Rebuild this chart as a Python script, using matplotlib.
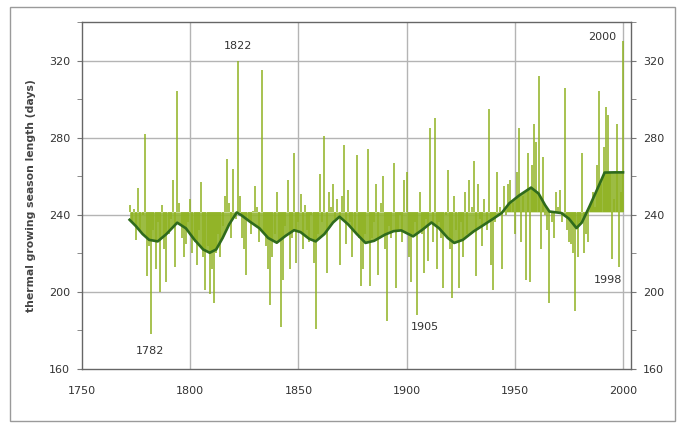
import numpy as np
import matplotlib
matplotlib.use("Agg")
import matplotlib.pyplot as plt
from matplotlib.patches import Rectangle

# ---- data ----
start_year = 1772
season_length = [
    245, 236, 243, 227, 254, 232, 240, 282,                      # 1772-1779
    208, 224, 178, 232, 212, 236, 200, 245, 222, 205,            # 1780s
    230, 238, 258, 213, 304, 246, 228, 218, 225, 236,            # 1790s
    248, 220, 226, 214, 232, 257, 218, 201, 224, 199,            # 1800s
    212, 194, 220, 230, 218, 234, 250, 269, 246, 228,            # 1810s
    264, 238, 320, 250, 228, 222, 209, 236, 230, 242,            # 1820s
    255, 244, 226, 315, 230, 224, 212, 193, 218, 230,            # 1830s
    252, 226, 182, 206, 234, 258, 212, 228, 272, 215,            # 1840s
    236, 251, 222, 245, 232, 226, 240, 215, 181, 230,            # 1850s
    261, 236, 281, 210, 252, 244, 256, 238, 248, 214,            # 1860s
    250, 276, 225, 253, 236, 218, 232, 271, 228, 203,            # 1870s
    212, 230, 274, 203, 228, 236, 256, 209, 246, 260,            # 1880s
    222, 185, 234, 228, 267, 202, 232, 240, 226, 258,            # 1890s
    262, 218, 205, 230, 236, 188, 252, 230, 210, 238,            # 1900s
    216, 285, 226, 290, 212, 236, 228, 202, 240, 263,            # 1910s
    222, 197, 250, 232, 202, 236, 218, 252, 230, 258,            # 1920s
    244, 268, 208, 256, 238, 224, 248, 232, 295, 214,            # 1930s
    201, 236, 262, 244, 212, 255, 240, 256, 258, 246,            # 1940s
    230, 262, 285, 226, 250, 206, 272, 205, 266, 287,            # 1950s
    278, 312, 222, 270, 240, 232, 194, 236, 228, 252,            # 1960s
    244, 253, 236, 306, 232, 226, 225, 220, 190, 218,            # 1970s
    236, 272, 220, 230, 226, 246, 252, 244, 266, 304,            # 1980s
    256, 275, 296, 292, 262, 217, 248, 287, 213, 252,            # 1990s
    330,                                                         # 2000
]
years = np.arange(start_year, start_year + len(season_length))
baseline = 241.5

smooth_years = [1772, 1775, 1778, 1781, 1785, 1789, 1794, 1798, 1802, 1806,
                1809, 1812, 1815, 1818, 1821.5, 1824, 1827.5, 1832, 1836, 1840,
                1844, 1848, 1851, 1855, 1858, 1862, 1866, 1869, 1873, 1877,
                1881, 1885, 1890, 1894, 1897.5, 1903, 1907, 1911.5, 1915, 1919,
                1922, 1926, 1931, 1936, 1940.5, 1944, 1947.5, 1952, 1957.5, 1961,
                1964, 1966, 1971.5, 1975, 1978.5, 1981, 1984.5, 1988, 1991.5, 1996,
                2000]
smooth_vals = [237.4, 234, 230, 227, 226.2, 230, 235.9, 233, 227, 222,
               220.3, 222, 228, 235, 241.2, 239.5, 236.5, 233, 228, 225.5,
               229, 232, 231, 227.5, 226.2, 230, 236, 239, 235, 230,
               225.4, 226.5, 229.7, 231.5, 231.9, 228.8, 232, 236, 233, 228,
               225.4, 227, 231.4, 235, 238.3, 241, 246, 250, 254.1, 251,
               245, 241.7, 240.9, 238, 233.1, 236, 244.3, 253, 261.9, 262,
               262]

annotations = [("1782", 1781.4, 169.5), ("1822", 1822, 327.5), ("1905", 1908.5, 182),
               ("1998", 1993.3, 206), ("2000", 1990.3, 332)]

xticks = [1750, 1800, 1850, 1900, 1950, 2000]
yticks = [160, 200, 240, 280, 320]

# ---- figure ----
fig = plt.figure(figsize=(6.82, 4.23), dpi=100)
fig.patch.set_facecolor("white")
fig.patches.append(Rectangle((10 / 682, 1 - 421 / 423), 665 / 682, 414 / 423,
                             transform=fig.transFigure, fill=False,
                             edgecolor="#9a9a9a", linewidth=1.0))

ax = fig.add_axes([82 / 682, 1 - 369 / 423, (631 - 82) / 682, (369 - 22) / 423])
ax.set_xlim(1750, 2003.7)
ax.set_ylim(160, 340)

gridc = "#b4b4b4"
for y in [200, 240, 280, 320]:
    ax.axhline(y, color=gridc, lw=1.0, zorder=0)
for x in [1800, 1850, 1900, 1950, 2000]:
    ax.axvline(x, color=gridc, lw=1.0, zorder=0)

ax.fill_between(smooth_years, smooth_vals, baseline, color="#94b733",
                linewidth=0, zorder=1, alpha=0.92)
ax.vlines(years, baseline, season_length, color="#8fb221", lw=1.1, zorder=2)
ax.plot(smooth_years, smooth_vals, color="#2f6b1c", lw=1.9, zorder=4,
        solid_joinstyle="round")

for txt, x, y in annotations:
    ax.text(x, y, txt, ha="center", va="center", fontsize=8, color="#333333",
            zorder=5)

ax.set_xticks(xticks)
ax.set_yticks(yticks)
ax.set_yticks(np.arange(160, 341, 20), minor=True)
ax.tick_params(axis="x", length=0, pad=12, labelsize=8, labelcolor="#333333")
ax.tick_params(axis="y", which="both", direction="out", length=3.5,
               color="#777777", labelsize=8, labelcolor="#333333", pad=5,
               right=True, labelright=True)

for s in ax.spines.values():
    s.set_color("#666666")
    s.set_linewidth(1.0)

ax.set_ylabel("thermal growing season length (days)", fontsize=7.8,
              fontweight="bold", color="#444444", labelpad=9)

fig.savefig("out.png", dpi=100)
